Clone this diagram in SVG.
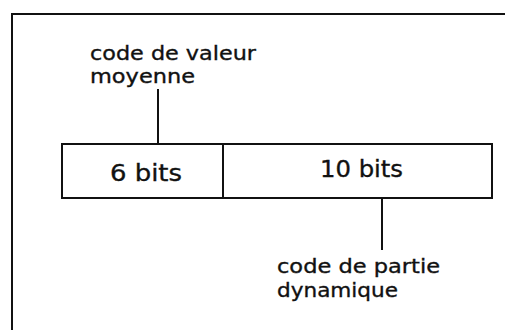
<svg xmlns="http://www.w3.org/2000/svg" width="505" height="330" viewBox="0 0 505 330">
<style>
.t{font-family:"DejaVu Sans","Liberation Sans",sans-serif;font-size:19.5px;fill:#111;stroke:#111;stroke-width:0.35}
.b{font-size:23px}
.l{stroke:#111;stroke-width:2;fill:none}
</style>
<rect width="505" height="330" fill="#fff"/>
<g id="frame"><path class="l" d="M12,335 V14 H506"/></g>
<g id="label-moyenne">
<text class="t" x="90" y="60" textLength="166" lengthAdjust="spacingAndGlyphs">code de valeur</text>
<text class="t" x="90" y="83" textLength="105" lengthAdjust="spacingAndGlyphs">moyenne</text>
</g>
<g id="field-6">
<rect class="l" x="62" y="144" width="161" height="54"/>
<text class="t b" x="110" y="181" textLength="72" lengthAdjust="spacingAndGlyphs">6 bits</text>
</g>
<g id="field-10">
<rect class="l" x="223" y="144" width="269" height="54"/>
<text class="t b" x="320" y="177" textLength="83" lengthAdjust="spacingAndGlyphs">10 bits</text>
</g>
<g id="label-dynamique">
<text class="t" x="277" y="273" textLength="163" lengthAdjust="spacingAndGlyphs">code de partie</text>
<text class="t" x="277" y="297" textLength="121" lengthAdjust="spacingAndGlyphs">dynamique</text>
</g>
<g id="connectors">
<line class="l" x1="158" y1="89" x2="158" y2="144"/>
<line class="l" x1="382" y1="198" x2="382" y2="250"/>
</g>
</svg>
